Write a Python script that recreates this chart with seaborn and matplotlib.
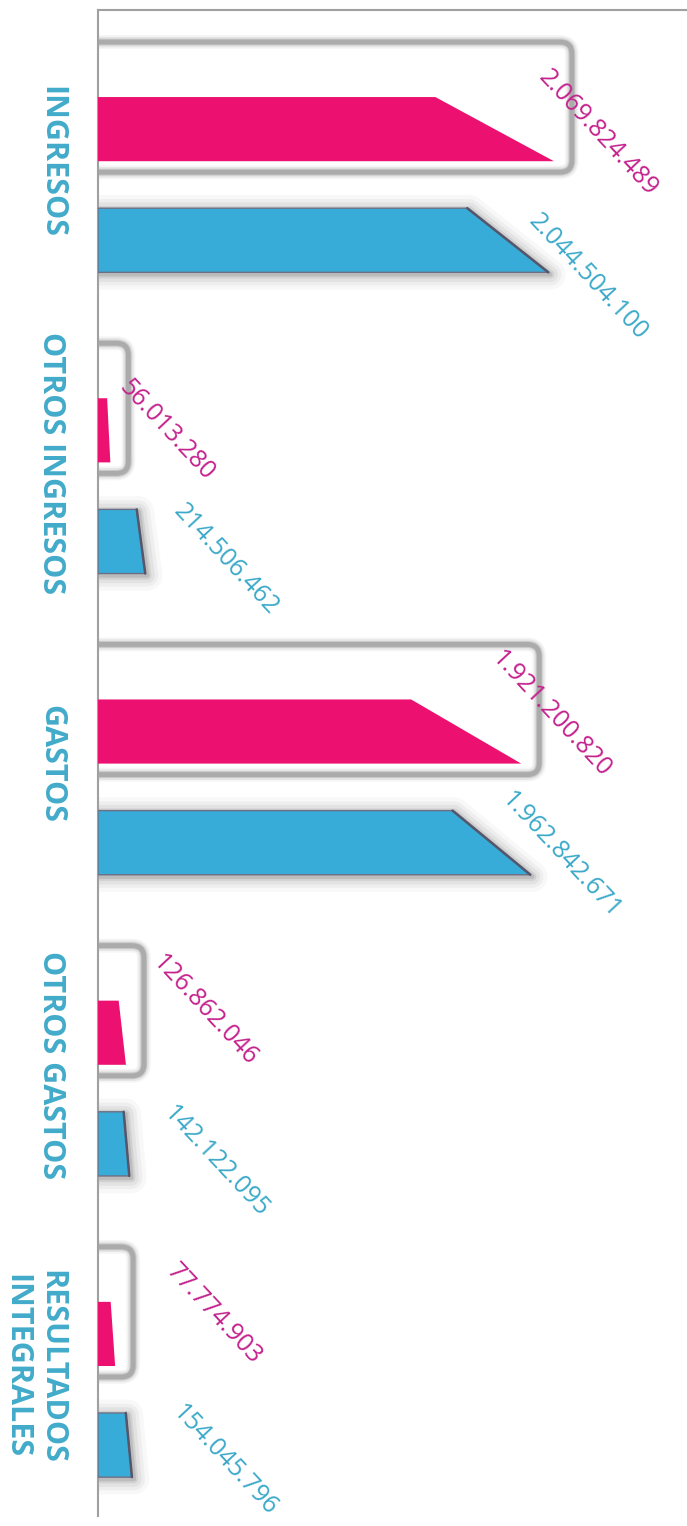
import pandas as pd
import seaborn as sns
import matplotlib.pyplot as plt
from matplotlib.patches import Polygon, FancyBboxPatch
from matplotlib.transforms import ScaledTranslation, IdentityTransform

# datos
categorias = ['INGRESOS', 'OTROS INGRESOS', 'GASTOS', 'OTROS GASTOS', 'RESULTADOS\nINTEGRALES']
serie_rosa = [2069824489, 56013280, 1921200820, 126862046, 77774903]
serie_azul = [2044504100, 214506462, 1962842671, 142122095, 154045796]
series = ['rosa', 'azul']

# estilo
ROSA, AZUL = '#EC1170', '#37ACD8'
TXT_ROSA, TXT_AZUL = '#C4218D', '#3BA9C9'
CAT_COLOR = '#42ABCA'
GRIS = '#a0a0a0'
ALTO_BARRA = 0.213          # grosor de cada barra (unidades de categoria)
PUNTA = {'rosa': 0.74, 'azul': 0.82}   # donde termina el borde superior
# desplazamiento de cada etiqueta en pixeles (dx, dy hacia abajo)
AJUSTE = {'rosa': [(44, 4), (56, 0), (30, -17), (79, -22), (99, -20)],
          'azul': [(40, 37), (81, 18), (31, 13), (87, 18), (93, 15)]}

df = pd.DataFrame({
    'categoria': categorias * 2,
    'valor': serie_rosa + serie_azul,
    'serie': ['rosa'] * len(categorias) + ['azul'] * len(categorias),
})

sns.set_style('white')
W, H = 687, 1526
fig = plt.figure(figsize=(W / 100, H / 100), dpi=100)
ax = fig.add_axes([98 / W, 10 / H, 1 - 98 / W, 1506 / H])

sns.barplot(data=df, y='categoria', x='valor', hue='serie', hue_order=series,
            palette={'rosa': ROSA, 'azul': AZUL}, orient='h', width=0.738,
            saturation=1, legend=False, ax=ax)

ax.set_xlim(0, 2.674e9)
ax.set_ylim(4.42, -0.58)

for cont, serie in zip(ax.containers, series):
    color = ROSA if serie == 'rosa' else AZUL
    for i, bar in enumerate(cont):
        bar.set_visible(False)
        x0, w = bar.get_x(), bar.get_width()
        yc = bar.get_y() + bar.get_height() / 2
        top, bot = yc - ALTO_BARRA / 2, yc + ALTO_BARRA / 2
        xt = x0 + PUNTA[serie] * w
        xy = [(x0, bot), (x0, top), (xt, top), (x0 + w, bot)]
        if serie == 'azul':
            # sombra difusa
            for lw, a in [(22, 0.035), (16, 0.05), (11, 0.07), (6, 0.1), (3, 0.15)]:
                sh = Polygon(xy, closed=True, fc='none', ec='#444444', lw=lw,
                             alpha=a, joinstyle='round', zorder=2)
                sh.set_transform(ax.transData + ScaledTranslation(2 / 100, -2 / 100, fig.dpi_scale_trans))
                ax.add_patch(sh)
            ax.add_patch(Polygon(xy, closed=True, fc=color, ec='#6d6f85', lw=1.0, zorder=3))
            ax.plot([xt, x0 + w], [top, bot], color='#55566b', lw=1.8, zorder=4,
                    solid_capstyle='round')
        else:
            ax.add_patch(Polygon(xy, closed=True, fc=color, ec='none', zorder=3))
            # recuadro redondeado alrededor de la barra rosa
            (px0, py_top), (px_tip, py_bot) = ax.transData.transform([(x0, top), (x0 + w, bot)])
            bx0, bx1 = px0 - 40, px_tip + 18
            by0, by1 = py_bot - 11, py_top + 55
            for lw, a, c in [(10, 0.08, '#888888'), (7.5, 0.15, '#8a8a8a'),
                             (5, 0.35, '#959595'), (3.5, 0.8, '#a4a4a4')]:
                box = FancyBboxPatch((bx0, by0), bx1 - bx0, by1 - by0,
                                     boxstyle='round,pad=0,rounding_size=12',
                                     fc='none', ec=c, lw=lw, alpha=a, zorder=1,
                                     transform=IdentityTransform())
                ax.add_patch(box)
        dx, dy = AJUSTE[serie][i]
        ax.annotate(f'{int(w):,}'.replace(',', '.'), xy=(x0 + w, yc), xytext=(dx, -dy),
                    textcoords='offset pixels', rotation=-47, rotation_mode='anchor',
                    ha='center', va='center', fontsize=18, family=['Open Sans', 'DejaVu Sans'],
                    color=TXT_ROSA if serie == 'rosa' else TXT_AZUL, zorder=5)

ax.set_xlim(0, 2.674e9)
ax.set_ylim(4.42, -0.58)

# ejes
for s in ['right', 'bottom']:
    ax.spines[s].set_visible(False)
for s in ['left', 'top']:
    ax.spines[s].set_color(GRIS)
    ax.spines[s].set_linewidth(1.5)
ax.set_xticks([])
ax.set_xlabel('')
ax.set_ylabel('')
ax.tick_params(axis='y', length=0, pad=23)
for lab in ax.get_yticklabels():
    lab.set_rotation(-90)
    lab.set_ha('right')
    lab.set_va('center')
    lab.set_multialignment('center')
    lab.set_color(CAT_COLOR)
    lab.set_fontweight('bold')
    lab.set_fontsize(22)
    lab.set_family(['Liberation Sans Narrow', 'Open Sans', 'DejaVu Sans'])
    lab.set_transform(lab.get_transform() + ScaledTranslation(0, 23 / 100, fig.dpi_scale_trans))

fig.savefig('out.png', dpi=100)
